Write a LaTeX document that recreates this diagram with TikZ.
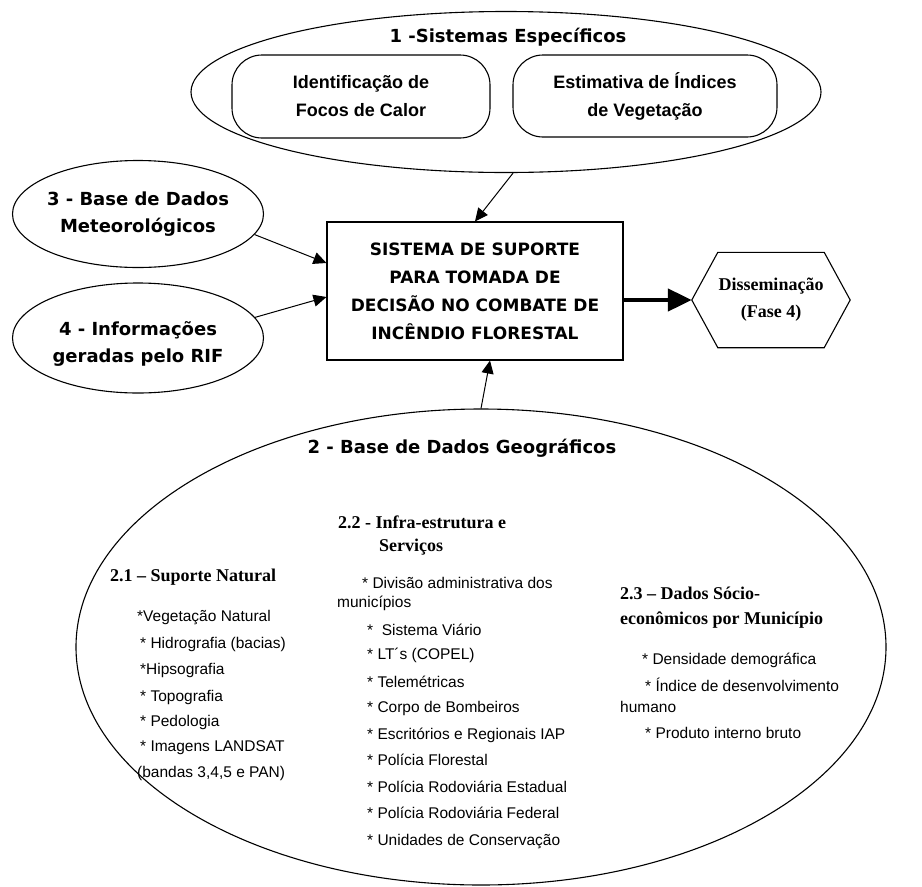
\documentclass[tikz,border=0pt]{standalone}
\usepackage{fontspec}
\setmainfont{Liberation Serif}
\setsansfont{Liberation Sans}
\newfontfamily\comicfont{DejaVu Sans}
\usetikzlibrary{arrows.meta,positioning,shapes.geometric}
\tikzset{
  borda/.style={draw, line width=1.1pt},
  elipse/.style={borda, ellipse, inner sep=0pt},
  rotulo/.style={font=\comicfont\bfseries\fontsize{18}{27}\selectfont, align=center, inner sep=0pt},
  bloco/.style={borda, rounded corners=30pt, inner sep=0pt, align=center,
    font=\sffamily\bfseries\fontsize{18}{28}\selectfont},
  item/.style={anchor=west, inner sep=0pt, font=\sffamily\fontsize{15.5}{18}\selectfont},
  secao/.style={anchor=west, inner sep=0pt, font=\rmfamily\bfseries\fontsize{18}{26}\selectfont},
  seta/.style={line width=1pt, -{Triangle[length=13pt,width=12pt]}}
}
\begin{document}
\begin{tikzpicture}[x=1pt,y=-1pt]
    \useasboundingbox (0,0) rectangle (922,887);
    % 1 - Sistemas Especificos
    \node[elipse, minimum width=630pt, minimum height=161pt] (e1) at (506,92) {};
    \node[rotulo] (t1) at (508,37) {1 -Sistemas Específicos};
    \node[bloco, minimum width=258pt, minimum height=83pt] (focos) at (361,96.5) {Identificação de\\Focos de Calor};
    \node[bloco, minimum width=264pt, minimum height=82pt] (indices) at (645,96) {Estimativa de Índices\\de Vegetação};
    % 3 e 4 - bases laterais
    \node[elipse, minimum width=251pt, minimum height=107pt] (e3) at (138,214) {};
    \node[rotulo] (t3) at (e3.center) {3 - Base de Dados\\Meteorológicos};
    \node[elipse, minimum width=251pt, minimum height=110pt] (e4) at (138,338) {};
    \node[rotulo] (t4) at ([yshift=-6pt]e4.center) {4 - Informações\\geradas pelo RIF};
    % Sistema de suporte
    \node[borda, minimum width=296pt, minimum height=138pt, align=center,
      font=\comicfont\bfseries\fontsize{17}{28}\selectfont] (sis) at (475,291)
      {SISTEMA DE SUPORTE\\PARA TOMADA DE\\DECISÃO NO COMBATE DE\\INCÊNDIO FLORESTAL};
    % Disseminacao
    \node[minimum width=158pt, minimum height=95pt, align=center,
      font=\rmfamily\bfseries\fontsize{18}{27}\selectfont] (dis) at (771,300) {Disseminação\\(Fase 4)};
    \draw[borda] (dis.west) -- ([xshift=26pt]dis.north west) -- ([xshift=-26pt]dis.north east)
      -- (dis.east) -- ([xshift=-26pt]dis.south east) -- ([xshift=26pt]dis.south west) -- cycle;
    % 2 - Base de Dados Geograficos
    \node[elipse, minimum width=810pt, minimum height=476pt] (e2) at (481,647) {};
    \node[rotulo] (t2) at (462,448) {2 - Base de Dados Geográficos};
    % 2.1
    \node[secao] (s21) at (110,577) {2.1 – Suporte Natural};
    \node[item] (sn1) at (137,618) {*Vegetação Natural};
    \node[item] (sn2) at (140,644) {* Hidrografia (bacias)};
    \node[item] (sn3) at (140,670) {*Hipsografia};
    \node[item] (sn4) at (140,697) {* Topografia};
    \node[item] (sn5) at (140,722) {* Pedologia};
    \node[item] (sn6) at (140,748) {* Imagens LANDSAT};
    \node[item] (sn7) at (137,773) {(bandas 3,4,5 e PAN)};
    % 2.2
    \node[secao] (s22) at (338,522) {2.2 - Infra-estrutura e};
    \node[secao] (s22b) at (379,547) {Serviços};
    \node[item] (ie1) at (362,583) {* Divisão administrativa dos};
    \node[item] (ie1b) at (337,603) {municípios};
    \node[item] (ie2) at (367,630) {*\ \ Sistema Viário};
    \node[item] (ie3) at (367,655) {* LT´s (COPEL)};
    \node[item] (ie4) at (367,682) {* Telemétricas};
    \node[item] (ie5) at (367,708) {* Corpo de Bombeiros};
    \node[item] (ie6) at (367,735) {* Escritórios e Regionais IAP};
    \node[item] (ie7) at (367,760) {* Polícia Florestal};
    \node[item] (ie8) at (367,787) {* Polícia Rodoviária Estadual};
    \node[item] (ie9) at (367,813) {* Polícia Rodoviária Federal};
    \node[item] (ie10) at (367,842) {* Unidades de Conservação};
    % 2.3
    \node[secao] (s23) at (620,593) {2.3 – Dados Sócio-};
    \node[secao] (s23b) at (620,620) {econômicos por Município};
    \node[item] (se1) at (642,660) {* Densidade demográfica};
    \node[item] (se2) at (645,685) {* Índice de desenvolvimento};
    \node[item] (se2b) at (620,707) {humano};
    \node[item] (se3) at (645,733) {* Produto interno bruto};
    % Setas
    \draw[seta] (e1.-85) -- (sis.north);
    \draw[seta] (e3.-10) -- ([yshift=28pt]sis.west);
    \draw[seta] (e4.10) -- ([yshift=-6pt]sis.west);
    \draw[seta] (e2.north) -- ([xshift=15pt]sis.south);
    \draw[line width=4.5pt, -{Triangle[length=24pt,width=22pt]}] (sis.east|-dis.west) -- (dis.west);
\end{tikzpicture}
\end{document}
